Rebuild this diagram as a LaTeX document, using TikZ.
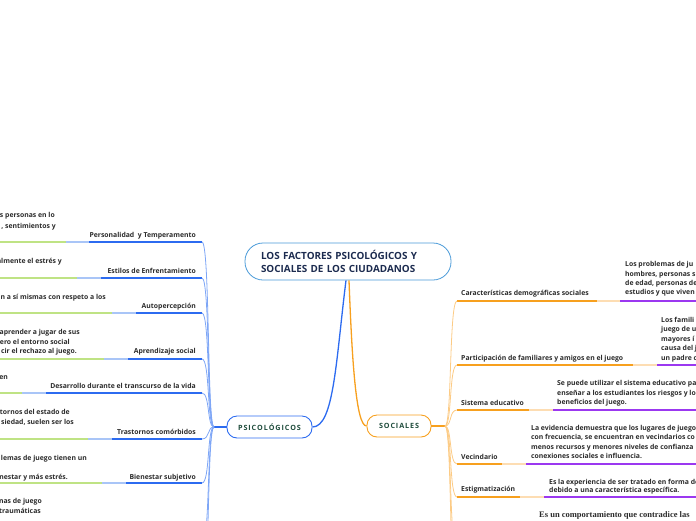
\documentclass[tikz,border=0pt]{standalone}
\usepackage{fontspec}
\setmainfont{Open Sans}
\newfontfamily\serifbold{Liberation Serif}
\definecolor{bluedark}{HTML}{2C6BF0}
\definecolor{bluelight}{HTML}{A9C5F7}
\definecolor{greenl}{HTML}{BFE384}
\definecolor{bluecurve}{HTML}{7EA6F6}
\definecolor{orangedark}{HTML}{F7A01E}
\definecolor{orangelight}{HTML}{FDDDB3}
\definecolor{orangecurve}{HTML}{FCCB85}
\definecolor{purplel}{HTML}{9B38F0}
\definecolor{rootborder}{HTML}{4A9AD8}
\definecolor{titletext}{HTML}{1C2B4F}
\definecolor{txtgray}{HTML}{2B2B2B}
\definecolor{maintext}{HTML}{1E4B3B}
\newcommand{\ks}{\kern0.9pt}
\begin{document}
\begin{tikzpicture}[x=1pt,y=-1pt,
  txt/.style={inner sep=0pt, font=\fontsize{6.85}{8}\selectfont\bfseries, text=txtgray},
  lbl/.style={txt},
  seg/.style={line width=1.6pt},
  curveb/.style={draw=bluecurve, line width=0.8pt},
  curveo/.style={draw=orangecurve, line width=0.8pt},
  mainbox/.style={draw, rounded corners=10pt, line width=0.9pt, minimum height=22pt, inner sep=0pt,
     font=\fontsize{7.2}{8}\selectfont\bfseries, text=maintext}]
\path[use as bounding box] (0,0) rectangle (696,520);
\clip (0,0) rectangle (696,520);

% root
\node[draw=rootborder, line width=0.8pt, rounded corners=18pt, minimum width=206pt, minimum height=37pt,
  text width=174pt, inner xsep=16pt, align=left, font=\fontsize{9.9}{13}\selectfont\bfseries, text=titletext]
  (root) at (348,261.5) {LOS FACTORES PSICOLÓGICOS Y\\SOCIALES DE LOS CIUDADANOS};

% main topics
\node[mainbox, draw=bluedark, minimum width=85pt] (psi) at (269.5,427) {P\ks S\ks I\ks C\ks O\ks L\ks Ó\ks G\ks I\ks C\ks O\ks S};
\node[mainbox, draw=orangedark, minimum width=64pt] (soc) at (399,426) {S\ks O\ks C\ks I\ks A\ks L\ks E\ks S};

\draw[bluedark, line width=1.3pt] ([xshift=-2pt]root.south) .. controls (336,360) and (334,427) .. (psi.east);
\draw[orangedark, line width=1.3pt] ([xshift=1pt]root.south) .. controls (352,360) and (356,426) .. (soc.west);

\coordinate (ptrunk) at (214,427);
\coordinate (strunk) at (445,426);
\draw[bluedark, line width=1.3pt] (psi.west) -- (ptrunk);
\draw[orangedark, line width=1.3pt] (soc.east) -- (strunk);

% left branches
\foreach \n/\yl/\yt/\bs/\ls/\lab in {
  1/242/235/89/66/{Personalidad\ \ y Temperamento},
  2/278/271/101/77/{Estilos de Enfrentamiento},
  3/313/306/136/112/{Autopercepción},
  4/359/351/128/104/{Aprendizaje social},
  5/393/386/46/22/{Desarrollo durante el transcurso de la vida},
  6/439/432/112/88/{Trastornos comórbidos},
  7/483/477/126/102/{Bienestar subjetivo},
  8/545/538/120/96/{},
  9/590/583/120/96/{}}{
  \coordinate (pa\n) at (-5,\yl);
  \coordinate (pg\n) at (\ls,\yl);
  \coordinate (pb\n) at (\bs,\yl);
  \coordinate (pe\n) at (202,\yl);
  \draw[seg, greenl] (pa\n) -- (pg\n);
  \draw[seg, bluelight] (pg\n) -- (pb\n);
  \draw[seg, bluedark] (pb\n) -- (pe\n);
  \draw[curveb] (pe\n) .. controls (210,\yl) and (207,427) .. (ptrunk);
  \node[lbl, anchor=mid east] (pl\n) at (196,\yt) {\lab};
}

% left description fragments
\node[txt, anchor=mid east] (f1) at (55,215) {s personas en lo};
\node[txt, anchor=mid east] (f2) at (56,226) {, sentimientos y};
\node[txt, anchor=mid east] (f3) at (62,261) {almente el estrés y};
\node[txt, anchor=mid east] (f4) at (106,297) {n a sí mismas con respeto a los};
\node[txt, anchor=mid east] (f5) at (80,332) {aprender a jugar de sus};
\node[txt, anchor=mid east] (f6) at (70,342) {ero el entorno social};
\node[txt, anchor=mid east] (f7) at (77,351) {cir el rechazo al juego.};
\node[txt, anchor=mid east] (f8) at (8,377) {en};
\node[txt, anchor=mid east] (f9) at (70,412) {tornos del estado de};
\node[txt, anchor=mid east] (f10) at (74,422) {siedad, suelen ser los};
\node[txt, anchor=mid east] (f11) at (87,458) {lemas de juego tienen un};
\node[txt, anchor=mid east] (f12) at (68,477) {nestar y más estrés.};
\node[txt, anchor=mid east] (f13) at (42,501) {nas de juego};
\node[txt, anchor=mid east] (f14) at (41,511) {traumáticas};

% right branches
\foreach \n/\yl/\yt/\oe/\le/\lab in {
  1/301/293/597/620/{Características demográficas sociales},
  2/365/358/633/657/{Participación de familiares y amigos en el juego},
  3/410/403/529/553/{Sistema educativo},
  4/464/457/502/526/{Vecindario},
  5/497/489/520/544/{Estigmatización},
  6/550/542/520/544/{},
  7/595/587/520/544/{}}{
  \coordinate (se\n) at (457,\yl);
  \coordinate (so\n) at (\oe,\yl);
  \coordinate (sl\n) at (\le,\yl);
  \coordinate (sz\n) at (701,\yl);
  \draw[seg, orangedark] (se\n) -- (so\n);
  \draw[seg, orangelight] (so\n) -- (sl\n);
  \draw[seg, purplel] (sl\n) -- (sz\n);
  \draw[curveo] (strunk) .. controls (452,426) and (449,\yl) .. (se\n);
  \node[lbl, anchor=mid west] (sla\n) at (461,\yt) {\lab};
}

% right descriptions
\node[txt, anchor=mid west] (d11) at (625,264) {Los problemas de ju};
\node[txt, anchor=mid west] (d12) at (625,274) {hombres, personas s};
\node[txt, anchor=mid west] (d13) at (625,283) {de edad, personas de};
\node[txt, anchor=mid west] (d14) at (625,292) {estudios y que viven};

\node[txt, anchor=mid west] (d21) at (661,320) {Los famili};
\node[txt, anchor=mid west] (d22) at (661,329) {juego de u};
\node[txt, anchor=mid west] (d23) at (661,339) {mayores í};
\node[txt, anchor=mid west] (d24) at (661,348) {causa del j};
\node[txt, anchor=mid west] (d25) at (661,358) {un padre c};

\node[txt, anchor=mid west] (d31) at (557,383) {Se puede utilizar el sistema educativo pa};
\node[txt, anchor=mid west] (d32) at (557,393) {enseñar a los estudiantes los riesgos y lo};
\node[txt, anchor=mid west] (d33) at (557,402) {beneficios del juego.};

\node[txt, anchor=mid west] (d41) at (531,428) {La evidencia demuestra que los lugares de juego};
\node[txt, anchor=mid west] (d42) at (531,437) {con frecuencia, se encuentran en vecindarios co};
\node[txt, anchor=mid west] (d43) at (531,447) {menos recursos y menores niveles de confianza};
\node[txt, anchor=mid west] (d44) at (531,456) {conexiones sociales e influencia.};

\node[txt, anchor=mid west] (d51) at (549,482) {Es la experiencia de ser tratado en forma de};
\node[txt, anchor=mid west] (d52) at (549,490) {debido a una característica específica.};

\node[inner sep=0pt, anchor=mid west, font=\serifbold\fontsize{8.5}{9}\selectfont\bfseries, text=txtgray]
  (d61) at (539,515) {Es un comportamiento que contradice las};
\end{tikzpicture}
\end{document}
